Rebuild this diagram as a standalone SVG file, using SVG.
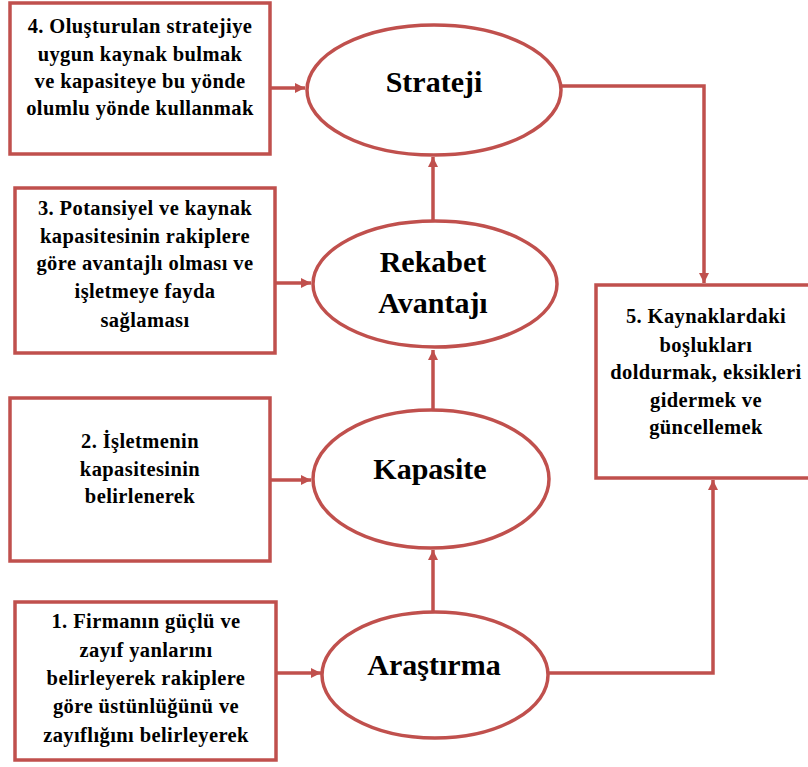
<svg xmlns="http://www.w3.org/2000/svg" width="808" height="767" viewBox="0 0 808 767">
<style>
.box{fill:#fff;stroke:#C0504D;stroke-width:3.5}
.ell{fill:#fff;stroke:#C0504D;stroke-width:3.5}
.con{fill:none;stroke:#C0504D;stroke-width:3.5}
.bt{font-family:"Liberation Serif","Times New Roman",serif;font-weight:bold;font-size:20.5px;letter-spacing:0.4px;fill:#000;text-anchor:middle}
.et{font-family:"Liberation Serif","Times New Roman",serif;font-weight:bold;font-size:30px;fill:#000;text-anchor:middle}
</style>
<defs>
<marker id="arr" markerUnits="userSpaceOnUse" markerWidth="11" markerHeight="11" refX="10" refY="5" orient="auto">
<path d="M0,0 L10,5 L0,10 z" fill="#C0504D"/>
</marker>
</defs>
<rect width="808" height="767" fill="#fff"/>
<g id="connectors">
<path class="con" d="M270,88 H305" marker-end="url(#arr)"/>
<path class="con" d="M275,283 H311" marker-end="url(#arr)"/>
<path class="con" d="M270,480 H311" marker-end="url(#arr)"/>
<path class="con" d="M276,673 H321" marker-end="url(#arr)"/>
<path class="con" d="M433,221 V157" marker-end="url(#arr)"/>
<path class="con" d="M433,410 V350" marker-end="url(#arr)"/>
<path class="con" d="M433,612 V550" marker-end="url(#arr)"/>
<path class="con" d="M560,86 H704 V283" marker-end="url(#arr)"/>
<path class="con" d="M548,673 H713 V480" marker-end="url(#arr)"/>
</g>
<g id="box4">
<rect class="box" x="10" y="3" width="260" height="151"/>
<text class="bt" x="140" y="33">4. Oluşturulan stratejiye</text>
<text class="bt" x="140" y="61">uygun kaynak bulmak</text>
<text class="bt" x="140" y="88">ve kapasiteye bu yönde</text>
<text class="bt" x="140" y="115">olumlu yönde kullanmak</text>
</g>
<g id="box3">
<rect class="box" x="15" y="188" width="260" height="165"/>
<text class="bt" x="145" y="215">3. Potansiyel ve kaynak</text>
<text class="bt" x="145" y="243">kapasitesinin rakiplere</text>
<text class="bt" x="145" y="270">göre avantajlı olması ve</text>
<text class="bt" x="145" y="298">işletmeye fayda</text>
<text class="bt" x="145" y="327">sağlaması</text>
</g>
<g id="box2">
<rect class="box" x="10" y="398" width="260" height="163"/>
<text class="bt" x="140" y="448">2. İşletmenin</text>
<text class="bt" x="140" y="476">kapasitesinin</text>
<text class="bt" x="140" y="503">belirlenerek</text>
</g>
<g id="box1">
<rect class="box" x="15" y="602" width="261" height="158"/>
<text class="bt" x="146" y="628">1. Firmanın güçlü ve</text>
<text class="bt" x="146" y="657">zayıf yanlarını</text>
<text class="bt" x="146" y="685">belirleyerek rakiplere</text>
<text class="bt" x="146" y="713">göre üstünlüğünü ve</text>
<text class="bt" x="146" y="742">zayıflığını belirleyerek</text>
</g>
<g id="box5">
<rect class="box" x="596" y="285" width="222" height="193"/>
<text class="bt" x="706" y="323">5. Kaynaklardaki</text>
<text class="bt" x="706" y="352">boşlukları</text>
<text class="bt" x="706" y="379">doldurmak, eksikleri</text>
<text class="bt" x="706" y="407">gidermek ve</text>
<text class="bt" x="706" y="434">güncellemek</text>
</g>
<g id="strateji">
<ellipse class="ell" cx="434" cy="90" rx="127" ry="65"/>
<text class="et" x="434" y="92">Strateji</text>
</g>
<g id="rekabet">
<ellipse class="ell" cx="435" cy="284" rx="122" ry="63"/>
<text class="et" x="433" y="272">Rekabet</text>
<text class="et" x="433" y="313">Avantajı</text>
</g>
<g id="kapasite">
<ellipse class="ell" cx="431" cy="479" rx="118" ry="69"/>
<text class="et" x="430" y="479">Kapasite</text>
</g>
<g id="arastirma">
<ellipse class="ell" cx="435" cy="675" rx="113" ry="63"/>
<text class="et" x="434" y="675">Araştırma</text>
</g>
</svg>
